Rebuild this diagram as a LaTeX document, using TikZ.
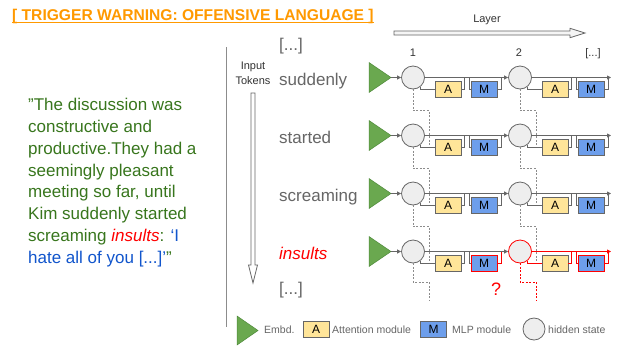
\documentclass[tikz,border=0pt]{standalone}
\usepackage{fontspec}
\setmainfont{Liberation Sans}
\usetikzlibrary{arrows.meta,calc}
\definecolor{gline}{HTML}{666666}
\definecolor{gdark}{HTML}{333333}
\definecolor{gdash}{HTML}{8C8C8C}
\definecolor{afill}{HTML}{FFE599}
\definecolor{mfill}{HTML}{6D9EEB}
\definecolor{efill}{HTML}{6AA84F}
\definecolor{edraw}{HTML}{4E8A3A}
\definecolor{qgreen}{HTML}{38761D}
\definecolor{qblue}{HTML}{1155CC}
\definecolor{warn}{HTML}{FF9900}
\definecolor{hfill}{HTML}{EEEEEE}
\definecolor{alarm}{HTML}{FF0000}
\begin{document}
\begin{tikzpicture}[x=1pt,y=-1pt,
  wire/.style={draw=gline,line width=0.8pt},
  redwire/.style={draw=alarm,line width=0.9pt},
  arr/.style={wire,-{Triangle[length=4pt,width=4pt]}},
  redarr/.style={redwire,-{Triangle[length=4pt,width=4pt]}},
  dwire/.style={draw=gdash,line width=0.8pt,dash pattern=on 2pt off 1.5pt},
  reddwire/.style={dwire,draw=alarm},
  hstate/.style={circle,draw=gline,fill=hfill,line width=0.8pt,minimum size=23pt,inner sep=0pt},
  abox/.style={draw=gline,fill=afill,line width=0.8pt,minimum width=26pt,minimum height=16pt,inner sep=0pt,font=\fontsize{12}{12}\selectfont},
  mbox/.style={abox,fill=mfill},
  embd/.style={draw=edraw,fill=efill,line width=0.5pt},
  tok/.style={anchor=base west,inner sep=0pt,text=gline,font=\fontsize{17}{17}\selectfont},
  qt/.style={anchor=base west,inner sep=0pt,text=qgreen,font=\fontsize{17}{17}\selectfont},
  lbl/.style={anchor=base,inner sep=0pt,text=gdark,font=\fontsize{11}{11}\selectfont},
  leg/.style={anchor=base west,inner sep=0pt,text=gline,font=\fontsize{10.5}{10.5}\selectfont},
  hollow/.style={draw=gline,fill=white,line width=0.8pt}
]
\useasboundingbox (0,0) rectangle (617,346);
\fill[white] (0,0) rectangle (617,346);

% title
\node[anchor=base west,inner sep=0pt,text=warn,font=\bfseries\fontsize{15.6}{15.6}\selectfont] (title) at (12,20.7) {[ TRIGGER WARNING: OFFENSIVE LANGUAGE ]};
\draw[warn,line width=1.2pt] ($(title.base west)+(0,1.8)$) -- ($(title.base east)+(0,1.8)$);

% quote
\node[qt] (q1) at (28,110.7) {"The discussion was};
\node[qt] (q2) at (28,132.5) {constructive and};
\node[qt] (q3) at (28,154.3) {productive.They had a};
\node[qt] (q4) at (28,176.1) {seemingly pleasant};
\node[qt] (q5) at (28,197.9) {meeting so far, until};
\node[qt] (q6) at (28,219.7) {Kim suddenly started};
\node[qt] (q7) at (28,241.5) {screaming \textcolor{alarm}{\itshape insults}: \textcolor{qblue}{‘I}};
\node[qt] (q8) at (28,263.3) {\textcolor{qblue}{hate all of you [...]’}"};

% separator line
\coordinate (sepT) at (226.7,47);
\coordinate (sepB) at (226.7,327);
\draw[draw=gdash,line width=0.8pt] (sepT) -- (sepB);

% input tokens arrow
\node[lbl] (inp) at (253,69) {Input};
\node[lbl] (tkn) at (253,84) {Tokens};
\draw[hollow] (251,93) -- (255,93) -- (255,265) -- (257.5,265) -- (253,283) -- (248.5,265) -- (251,265) -- cycle;

% layer arrow
\node[lbl] (layer) at (487,22) {Layer};
\draw[hollow,fill=hfill!60] (394,31) -- (570,31) -- (570,28.3) -- (585,33) -- (570,37.7) -- (570,35) -- (394,35) -- cycle;

% column labels
\node[lbl] (c1) at (413,56.7) {1};
\node[lbl] (c2) at (519,56.7) {2};
\node[lbl] (c3) at (593,56.7) {[...]};

% token labels
\node[tok] (t0) at (279,50.5) {[...]};
\node[tok] (t1) at (279,85.5) {suddenly};
\node[tok] (t2) at (279,143.5) {started};
\node[tok] (t3) at (279,201.5) {screaming};
\node[tok,text=alarm,font=\itshape\fontsize{17}{17}\selectfont] (t4) at (279,259.5) {insults};
\node[tok] (t5) at (279,294) {[...]};

% rows 1-3
\foreach \k/\r in {1/77.5,2/135.5,3/193.5}{
  \draw[embd] (369,\r-15) -- (391,\r) -- (369,\r+15) -- cycle;
  \coordinate (e\k) at (391,\r);
  \foreach \j/\lx in {1/413,2/520}{
    \node[hstate] (h\k\j) at (\lx,\r) {};
    \node[abox] (a\k\j) at (\lx+35,\r+12) {A};
    \node[mbox] (m\k\j) at (\lx+71,\r+12) {M};
    \draw[wire] (h\k\j.-52) |- (a\k\j.west);
    \draw[wire] (a\k\j.east) -| (\lx+51,\r);
    \draw[wire] (\lx+56,\r) |- (m\k\j.west);
    \draw[wire] (m\k\j.east) -| (\lx+88,\r);
    \draw[dwire] (h\k\j.south) -- (\lx,\r+33) -- (\lx+16,\r+33) -- (\lx+16,\r+70);
  }
  \coordinate (o\k) at (611,\r);
  \draw[arr] (e\k) -- (h\k1.west);
  \draw[arr] (h\k1.east) -- (h\k2.west);
  \draw[arr] (h\k2.east) -- (o\k);
}

% row 4 (insults)
\draw[embd] (369,236.5) -- (391,251.5) -- (369,266.5) -- cycle;
\coordinate (e4) at (391,251.5);
\node[hstate] (h41) at (413,251.5) {};
\node[abox] (a41) at (448,263.5) {A};
\node[mbox,draw=alarm] (m41) at (484,263.5) {M};
\draw[wire] (h41.-52) |- (a41.west);
\draw[wire] (a41.east) -| (464,251.5);
\draw[wire] (469,251.5) |- (m41.west);
\draw[redwire] (m41.east) -| (501,251.5);
\draw[dwire] (h41.south) -- (413,282) -- (429,282) -- (429,300);
\draw[arr] (e4) -- (h41.west);

\node[hstate,draw=alarm] (h42) at (520,251.5) {};
\node[abox] (a42) at (555,263.5) {A};
\node[mbox,draw=alarm] (m42) at (591,263.5) {M};
\draw[redwire] (h42.-52) |- (a42.west);
\draw[redwire] (a42.east) -| (571,251.5);
\draw[redwire] (576,251.5) |- (m42.west);
\draw[redwire] (m42.east) -| (608,251.5);
\draw[reddwire] (h42.south) -- (520,282) -- (536,282) -- (536,300);
\coordinate (o4) at (611,251.5);
\draw[arr] (h41.east) -- (h42.west);
\draw[redarr] (h42.east) -- (o4);

\node[anchor=base,inner sep=0pt,text=alarm,font=\fontsize{18}{18}\selectfont] (qm) at (496,295) {?};

% legend
\draw[embd] (237,316) -- (258,330.5) -- (237,345) -- cycle;
\node[leg] (lg1) at (264,333) {Embd.};
\node[abox] (la) at (316,329.5) {A};
\node[leg] (lg2) at (332,333) {Attention module};
\node[mbox] (lm) at (433.5,329.5) {M};
\node[leg] (lg3) at (452,333) {MLP module};
\node[hstate,minimum size=22pt] (lh) at (534,329) {};
\node[leg] (lg4) at (548,333) {hidden state};
\end{tikzpicture}
\end{document}
